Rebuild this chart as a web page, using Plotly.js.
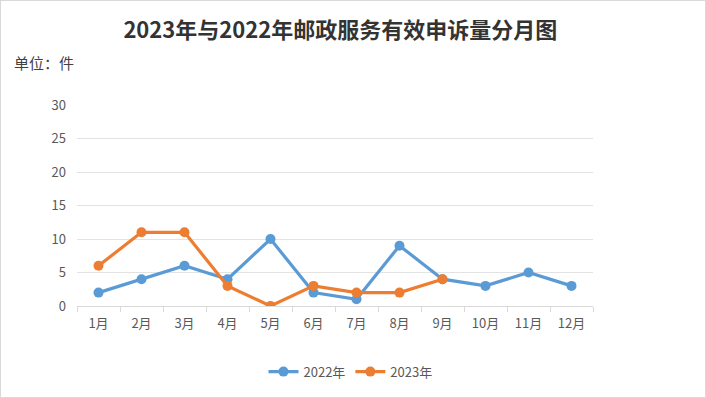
<!DOCTYPE html>
<html>
<head>
<meta charset="utf-8">
<script src="https://cdn.plot.ly/plotly-3.0.1.min.js"></script>
<style>
html,body{margin:0;padding:0;background:#fff;}
#chart{width:704px;height:396px;border:1px solid #d9d9d9;}
</style>
</head>
<body>
<div id="chart"></div>
<script>
const months = ['1月','2月','3月','4月','5月','6月','7月','8月','9月','10月','11月','12月'];
const months2023 = ['1月','2月','3月','4月','5月','6月','7月','8月','9月'];
const values2022 = [2,4,6,4,10,2,1,9,4,3,5,3];
const values2023 = [6,11,11,3,0,3,2,2,4];
const yTicks = [0,5,10,15,20,25,30];

const traces = [
  {x: months, y: values2022, name: '2022年', type: 'scatter', mode: 'lines+markers',
   line: {color: '#5B9BD5', width: 3.2}, marker: {color: '#5B9BD5', size: 10}},
  {x: months2023, y: values2023, name: '2023年', type: 'scatter', mode: 'lines+markers',
   line: {color: '#ED7D31', width: 3.2}, marker: {color: '#ED7D31', size: 10}}
];

const layout = {
  width: 704, height: 396,
  margin: {l: 76, r: 112, t: 104, b: 90},
  paper_bgcolor: '#fff', plot_bgcolor: '#fff',
  font: {family: '"Noto Sans CJK SC", "Noto Sans", sans-serif', color: '#595959', size: 13},
  title: {text: '<b>2023年与2022年邮政服务有效申诉量分月图</b>', x: 0.482, xanchor: 'center', y: 0.925, yanchor: 'middle',
          font: {size: 22, color: '#333333', family: '"Noto Sans CJK SC", sans-serif'}},
  xaxis: {type: 'category', categoryorder: 'array', categoryarray: months, range: [-0.5, 11.5],
          tickson: 'boundaries', ticks: 'outside', ticklen: 5, tickcolor: '#d9d9d9',
          showline: true, linecolor: '#d9d9d9', linewidth: 1, showgrid: false, ticklabelstandoff: 5,
          tickfont: {size: 13, color: '#595959'}, fixedrange: true},
  yaxis: {range: [0, 30], tickvals: yTicks, showgrid: true, gridcolor: '#e3e3e3', gridwidth: 1,
          zeroline: false, showline: false, ticks: '', ticklabelstandoff: 10,
          tickfont: {size: 13, color: '#595959'}, fixedrange: true},
  legend: {orientation: 'h', x: 0.53, xanchor: 'center', y: -0.32, yanchor: 'middle',
           font: {size: 13, color: '#595959'}},
  showlegend: true,
  annotations: [{text: '单位：件', xref: 'paper', yref: 'paper', x: -0.126, xanchor: 'left',
                 y: 1.21, yanchor: 'middle', showarrow: false,
                 font: {size: 15, color: '#404040'}}]
};

Plotly.newPlot('chart', traces, layout, {displayModeBar: false, staticPlot: true});
</script>
</body>
</html>
